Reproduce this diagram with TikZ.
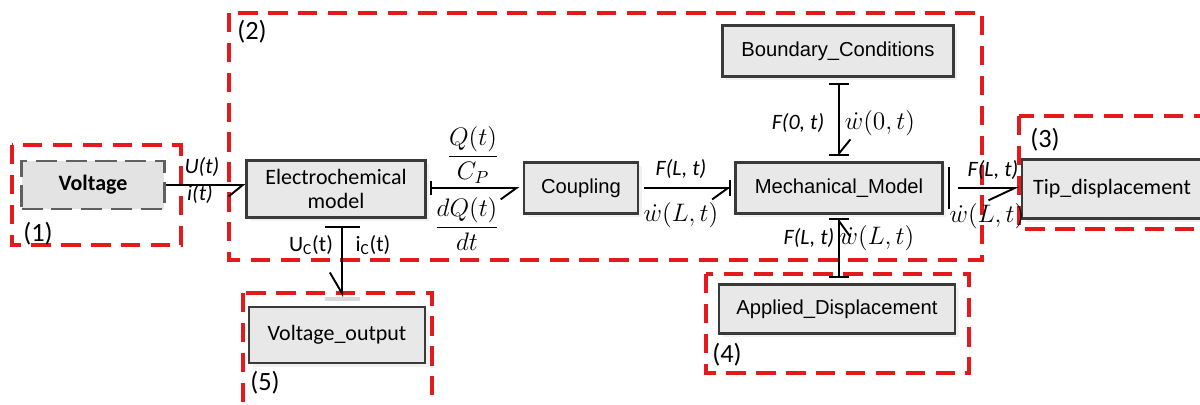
\documentclass[tikz,border=0pt]{standalone}
\usepackage{amsmath}
\usepackage{fontspec}
\setmainfont{Carlito}
\newfontfamily\arialfont{Liberation Sans}
\usetikzlibrary{arrows.meta,shadows}
\definecolor{regionred}{HTML}{E3191C}
\definecolor{boxedge}{HTML}{3A3A3A}
\definecolor{boxfill}{HTML}{E8E8E8}
\tikzset{
  block/.style={draw=boxedge, line width=1.2pt, fill=boxfill, inner sep=0pt,
                align=center, font=\fontsize{12.5}{14}\selectfont,
                drop shadow={shadow xshift=2pt, shadow yshift=-2pt, fill=gray!22}},
  ablock/.style={block, font=\arialfont\fontsize{11.5}{13}\selectfont},
  srcblock/.style={draw=gray!75!black, line width=1.3pt, dash pattern=on 12pt off 5pt,
                   fill=gray!22, inner sep=0pt, font=\bfseries\fontsize{12.5}{14}\selectfont},
  region/.style={draw=regionred, line width=1.8pt, dash pattern=on 11pt off 6pt},
  tag/.style={font=\fontsize{15}{17}\selectfont, inner sep=0pt},
  bond/.style={line width=1.1pt},
  flow/.style={font=\itshape\fontsize{12.5}{14}\selectfont, inner sep=1pt},
  eff/.style={font=\fontsize{14}{16}\selectfont, inner sep=1pt},
  frac/.style={font=\fontsize{14}{16}\selectfont, inner sep=1pt},
}

\begin{document}
\begin{tikzpicture}[x=0.02cm, y=-0.02cm]
    \useasboundingbox (0,0) rectangle (1200,405);
    % groups
    \draw[region] (12,145) rectangle (181,245);
    \draw[region] (229,13) rectangle (982,260);
    \draw[region] (1019,116) rectangle (1212,229);
    \draw[region] (706,274) rectangle (969,373);
    \draw[region] (243,293) rectangle (432,414);
    \node[tag] (t1) at (38,234) {(1)};
    \node[tag] (t2) at (252,32) {(2)};
    \node[tag] (t3) at (1045,140) {(3)};
    \node[tag] (t4) at (727,355) {(4)};
    \node[tag] (t5) at (265,383) {(5)};

    % blocks
    \node[srcblock, minimum width=2.86cm, minimum height=0.96cm] (volt) at (93,185) {Voltage};
    \node[block, minimum width=3.58cm, minimum height=1.14cm] (electro) at (336,189) {Electrochemical\\model};
    \node[ablock, minimum width=2.28cm, minimum height=1.02cm] (coupling) at (581,188) {Coupling};
    \node[ablock, minimum width=4.14cm, minimum height=1.02cm] (mech) at (839,188) {Mechanical\_Model};
    \node[ablock, minimum width=4.62cm, minimum height=1.02cm] (bound) at (838,51) {Boundary\_Conditions};
    \node[block, minimum width=3.6cm, minimum height=1.18cm] (tip) at (1112,189) {Tip\_displacement};
    \node[block, minimum width=3.52cm, minimum height=1.12cm] (vout) at (337,335) {Voltage\_output};
    \node[ablock, minimum width=4.72cm, minimum height=0.98cm] (applied) at (837,309) {Applied\_Displacement};

    % bonds
    \draw[bond, -{Straight Barb[harpoon,swap,length=8pt,width=13pt]}] (volt.east) -- (electro.west |- volt.east);
    \draw[bond, {Bar[width=8pt]}-{Straight Barb[harpoon,swap,length=9pt,width=13pt]}] ([xshift=2pt]electro.east |- coupling.west) -- ([xshift=-2pt]coupling.west);
    \draw[bond, -{Straight Barb[harpoon,swap,length=9pt,width=13pt]}] ([xshift=3pt]coupling.east) -- ([xshift=-2pt]mech.west);
    \draw[bond, -{Bar[width=9pt]}] ([xshift=3pt]coupling.east) -- ([xshift=-2pt]mech.west);
    \draw[bond, {Bar[width=11pt]}-{Straight Barb[harpoon,length=8pt,width=13pt]}] ([yshift=-3pt]bound.south -| mech.north) -- ([yshift=3pt]mech.north);
    \draw[bond, -{Bar[width=11pt]}] ([yshift=-3pt]bound.south -| mech.north) -- ([yshift=3pt]mech.north);
    \draw[bond, {Bar[width=11pt]}-{Straight Barb[harpoon,swap,length=9pt,width=13pt]}] ([yshift=3pt]applied.north -| mech.south) -- ([yshift=-2pt]mech.south);
    \draw[bond, -{Bar[width=11pt]}] ([yshift=3pt]applied.north -| mech.south) -- ([yshift=-2pt]mech.south);
    \draw[bond] ([xshift=3pt,yshift=-12pt]mech.east) -- ([xshift=3pt,yshift=12pt]mech.east);
    \draw[bond, -{Straight Barb[harpoon,swap,length=15pt,width=14pt]}] ([xshift=8pt]mech.east) -- ([xshift=-1pt]tip.west |- mech.east);
    \draw[bond, {Bar[width=20pt]}-{Straight Barb[harpoon,swap,length=12pt,width=14pt]}] ([xshift=3.5pt,yshift=-4.5pt]electro.south) -- ([xshift=3.5pt,yshift=5pt]vout.north -| electro.south);
    \draw[gray!30, line width=2pt] ([xshift=-6.5pt,yshift=4pt]vout.north -| electro.south) -- ([xshift=13.5pt,yshift=4pt]vout.north -| electro.south);

    % efforts and flows
    \node[flow] (ut) at (202,167) {U(t)};
    \node[flow] (it) at (200,194) {i(t)};
    \node[frac] (qc) at (473,155) {$\dfrac{Q(t)}{C_P}$};
    \node[frac] (dq) at (467,224) {$\dfrac{dQ(t)}{dt}$};
    \node[flow] (fc) at (681,169) {F(L, t)};
    \node[eff] (wc) at (681,215) {$\dot{w}(L,t)$};
    \node[flow] (fb) at (798,123) {F(0, t)};
    \node[eff] (wb) at (880,123) {$\dot{w}(0,t)$};
    \node[flow] (fa) at (809,238) {F(L, t)};
    \node[eff] (wa) at (877,238) {$\dot{w}(L,t)$};
    \node[flow] (ft) at (993,170) {F(L, t)};
    \node[eff] (wt) at (987,216) {$\dot{w}(L,t)$};
    \node[eff, font=\fontsize{12.5}{14}\selectfont] (uc) at (311,245) {U\textsubscript{C}(t)};
    \node[eff, font=\fontsize{12.5}{14}\selectfont] (ic) at (373,245) {i\textsubscript{C}(t)};
\end{tikzpicture}
\end{document}
